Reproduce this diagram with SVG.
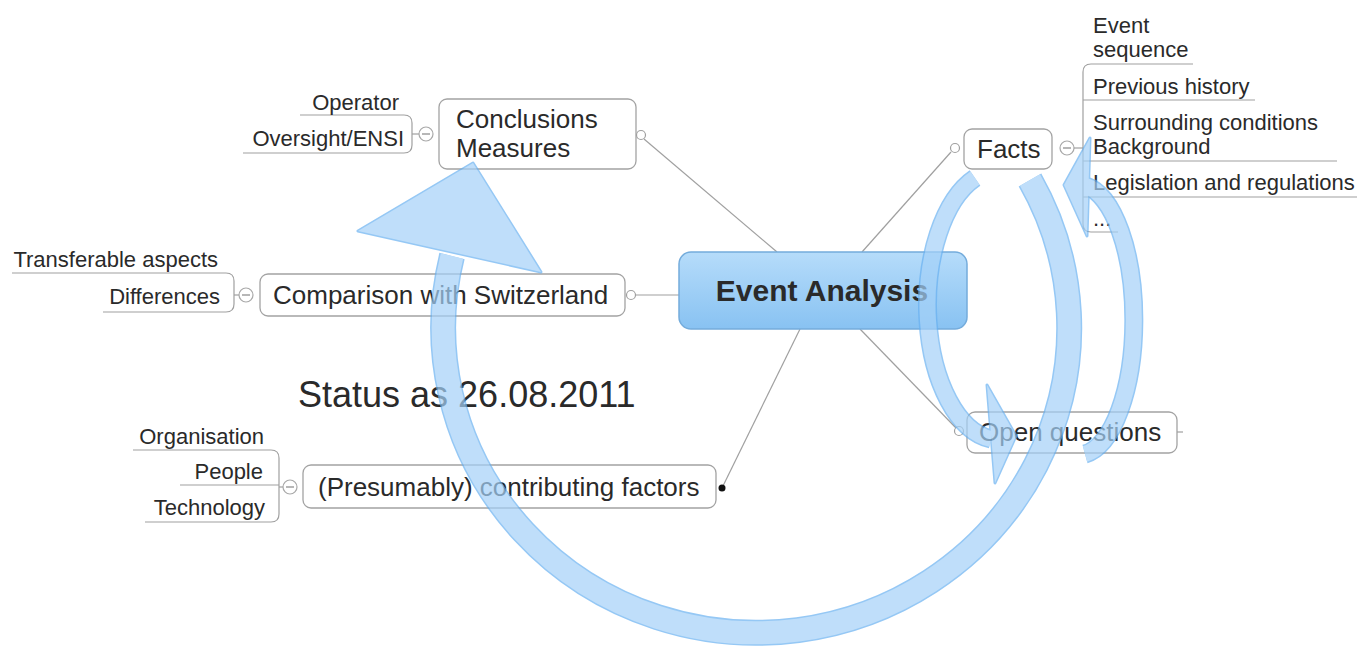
<svg xmlns="http://www.w3.org/2000/svg" width="1358" height="647" viewBox="0 0 1358 647">
<defs>
<linearGradient id="gEA" x1="0" y1="0" x2="0" y2="1">
<stop offset="0" stop-color="#b6dcfa"/>
<stop offset="1" stop-color="#88c2f2"/>
</linearGradient>
<style>
.box{fill:#fff;stroke:#a3a3a3;stroke-width:1.3}
.t{font-family:"Liberation Sans",Arial,sans-serif;fill:#2a2a2a}
.main{font-size:26px}
.sub{font-size:22px}
.ln{fill:none;stroke:#a0a0a0;stroke-width:1.2}
.col{fill:#fff;stroke:#a8a8a8;stroke-width:1.2}
.pt{fill:#fff;stroke:#a0a0a0;stroke-width:1.2}
.bEdge{fill:none;stroke:#69b1f1;stroke-linecap:butt}
.bFill{fill:none;stroke:#a4d1f8;stroke-linecap:butt}
.hEdge{fill:#69b1f1;stroke:#69b1f1;stroke-width:3;stroke-linejoin:round}
.hFill{fill:#a4d1f8}
</style>
</defs>
<rect width="1358" height="647" fill="#fff"/>

<g id="connectors">
<line class="ln" x1="644" y1="139" x2="777" y2="252"/>
<line class="ln" x1="951" y1="152" x2="862" y2="252"/>
<line class="ln" x1="636" y1="295" x2="679" y2="295"/>
<line class="ln" x1="722" y1="488" x2="800" y2="329"/>
<line class="ln" x1="956" y1="428" x2="860" y2="329"/>
</g>

<g id="event-analysis">
<rect x="679" y="252" width="288" height="77" rx="12" fill="url(#gEA)" stroke="#74acdc" stroke-width="1.5"/>
<text class="t" x="822" y="301" font-size="30" font-weight="bold" text-anchor="middle" fill="#333">Event Analysis</text>
</g>

<g id="conclusions">
<rect class="box" x="439" y="99" width="197" height="70" rx="8"/>
<text class="t main" x="456" y="128">Conclusions</text>
<text class="t main" x="456" y="157">Measures</text>
<circle class="pt" cx="641" cy="135" r="4.5"/>
<line class="ln" x1="412" y1="134" x2="419" y2="134"/>
<circle class="col" cx="426" cy="134" r="7"/>
<line x1="422" y1="134" x2="430" y2="134" stroke="#888" stroke-width="1.2"/>
<path class="ln" d="M300 115 H404 Q412 115 412 123 V145 Q412 153 404 153 H243"/>
<text class="t sub" x="399" y="110" text-anchor="end">Operator</text>
<text class="t sub" x="404" y="146" text-anchor="end">Oversight/ENSI</text>
</g>

<g id="comparison">
<rect class="box" x="260" y="274" width="365" height="42" rx="8"/>
<text class="t main" x="273" y="304">Comparison with Switzerland</text>
<circle class="pt" cx="631" cy="295" r="4.5"/>
<line class="ln" x1="234" y1="295" x2="239" y2="295"/>
<circle class="col" cx="246" cy="295" r="7"/>
<line x1="242" y1="295" x2="250" y2="295" stroke="#888" stroke-width="1.2"/>
<path class="ln" d="M12 273 H226 Q234 273 234 281 V304 Q234 312 226 312 H103"/>
<text class="t sub" x="218" y="267" text-anchor="end">Transferable aspects</text>
<text class="t sub" x="220" y="304" text-anchor="end">Differences</text>
</g>

<g id="factors">
<rect class="box" x="303" y="465" width="413" height="43" rx="8"/>
<text class="t main" x="318" y="496">(Presumably) contributing factors</text>
<circle cx="722" cy="488" r="3.5" fill="#111"/>
<line class="ln" x1="279" y1="487" x2="283" y2="487"/>
<circle class="col" cx="290" cy="487" r="7"/>
<line x1="286" y1="487" x2="294" y2="487" stroke="#888" stroke-width="1.2"/>
<path class="ln" d="M133 450 H271 Q279 450 279 458 V514 Q279 522 271 522 H145"/>
<path class="ln" d="M180 485 H279"/>
<text class="t sub" x="264" y="444" text-anchor="end">Organisation</text>
<text class="t sub" x="263" y="479" text-anchor="end">People</text>
<text class="t sub" x="265" y="515" text-anchor="end">Technology</text>
</g>

<g id="facts">
<rect class="box" x="964" y="129" width="88" height="40" rx="8"/>
<text class="t main" x="977" y="158">Facts</text>
<circle class="pt" cx="955" cy="148" r="4.5"/>
<circle class="col" cx="1067" cy="148" r="7"/>
<line x1="1063" y1="148" x2="1071" y2="148" stroke="#888" stroke-width="1.2"/>
<line class="ln" x1="1074" y1="148" x2="1083" y2="148"/>
<path class="ln" d="M1193 64 H1091 Q1083 64 1083 72 V224 Q1083 232 1091 232 H1118"/>
<path class="ln" d="M1083 100 H1255 M1083 161 H1337 M1083 197 H1357"/>
<text class="t sub" x="1093" y="33">Event</text>
<text class="t sub" x="1093" y="57">sequence</text>
<text class="t sub" x="1093" y="94">Previous history</text>
<text class="t sub" x="1093" y="130">Surrounding conditions</text>
<text class="t sub" x="1093" y="154">Background</text>
<text class="t sub" x="1093" y="190">Legislation and regulations</text>
<text class="t sub" x="1093" y="226">...</text>
</g>

<g id="open-questions">
<rect class="box" x="967" y="412" width="210" height="41" rx="8"/>
<text class="t main" x="979" y="441">Open questions</text>
<circle class="pt" cx="959" cy="431" r="4.5"/>
<line class="ln" x1="1177" y1="432" x2="1183" y2="432"/>
</g>

<g id="status">
<text class="t" x="298" y="407" font-size="36" fill="#111">Status as 26.08.2011</text>
</g>

<g id="cycle-arrows">
<g opacity="0.7">
<path class="bEdge" stroke-width="26" d="M1030 180 A313 305 0 1 1 452 256"/>
<polygon class="hEdge" points="473,163 358,231 541,272"/>
<path class="bFill" stroke-width="23" d="M1030 180 A313 305 0 1 1 452 256"/>
<polygon class="hFill" points="473,163 358,231 541,272"/>
</g>
<g opacity="0.7">
<path class="bEdge" stroke-width="19" d="M975 178 A72 135 0 0 0 991 439"/>
<polygon class="hEdge" points="987,385 1016,436 995,483"/>
<path class="bFill" stroke-width="16" d="M975 178 A72 135 0 0 0 991 439"/>
<polygon class="hFill" points="987,385 1016,436 995,483"/>
</g>
<g opacity="0.7">
<path class="bEdge" stroke-width="19" d="M1085 454 A55 135 0 0 0 1086 186"/>
<polygon class="hEdge" points="1090,138 1064,185 1087,236"/>
<path class="bFill" stroke-width="16" d="M1085 454 A55 135 0 0 0 1086 186"/>
<polygon class="hFill" points="1090,138 1064,185 1087,236"/>
</g>
</g>
</svg>
